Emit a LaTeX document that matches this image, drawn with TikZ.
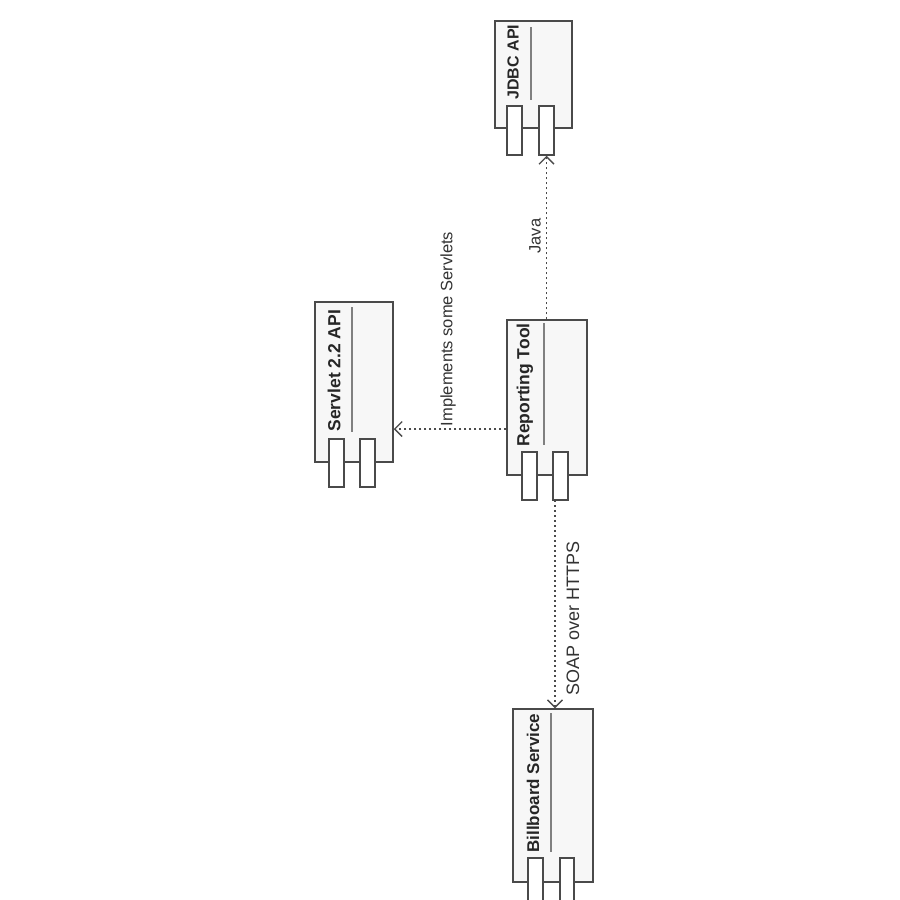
\documentclass[tikz,border=0pt]{standalone}
\usepackage{fontspec}
\setmainfont{Liberation Sans}
\usetikzlibrary{fit,arrows.meta}
\definecolor{edge}{HTML}{4A4A4A}
\definecolor{boxfill}{HTML}{F7F7F7}
\definecolor{sepline}{HTML}{808080}
\tikzset{
  compbox/.style={draw=edge, fill=boxfill, line width=0.6pt, inner sep=0pt, rectangle},
  comptab/.style={draw=edge, fill=white, line width=0.6pt, inner sep=0pt, rectangle},
  compname/.style={rotate=90, anchor=west, inner sep=0pt, font=\fontsize{7}{8}\selectfont\bfseries, text=black!85},
  sepstroke/.style={draw=sepline, line width=0.6pt},
  depline/.style={draw=edge, line width=0.75pt, dash pattern=on 0.9pt off 1.1pt, -{Straight Barb[length=3pt,width=6pt,line width=0.55pt]}},
  deplabel/.style={rotate=90, inner sep=0pt, font=\fontsize{7}{8}\selectfont, text=black!80}
}
\begin{document}
\begin{tikzpicture}[x=0.4pt,y=-0.4pt]
\useasboundingbox (0,0) rectangle (900,900);
\fill[white] (0,0) rectangle (900,900);
\clip (0,0) rectangle (900,900);

% JDBC API
\node[compbox, fit={(495,21) (572,128)}] (jdbc) {};
\node[comptab, fit={(507,106) (522,155)}] (jdbcA) {};
\node[comptab, fit={(539,106) (554,155)}] (jdbcB) {};
\node[compname, font=\fontsize{6.4}{8}\selectfont\bfseries] (jdbcN) at (513,100) {JDBC API};
\path[sepstroke] (531,27) -- (531,100);

% Servlet 2.2 API
\node[compbox, fit={(315,302) (393,462)}] (servlet) {};
\node[comptab, fit={(329,439) (344,487)}] (servletA) {};
\node[comptab, fit={(360,439) (375,487)}] (servletB) {};
\node[compname] (servletN) at (334,432) {Servlet 2.2 API};
\path[sepstroke] (352,307) -- (352,432);

% Reporting Tool
\node[compbox, fit={(507,320) (587,475)}] (rt) {};
\node[comptab, fit={(522,452) (537,500)}] (rtA) {};
\node[comptab, fit={(553,452) (568,500)}] (rtB) {};
\node[compname] (rtN) at (525,447) {Reporting Tool};
\path[sepstroke] (544,323) -- (544,445);

% Billboard Service
\node[compbox, fit={(513,709) (593,882)}] (bb) {};
\node[comptab, fit={(528,858) (543,910)}] (bbA) {};
\node[comptab, fit={(560,858) (574,910)}] (bbB) {};
\node[compname, font=\fontsize{6.8}{8}\selectfont\bfseries] (bbN) at (533,853) {Billboard Service};
\path[sepstroke] (551,713) -- (551,852);

% connectors
\coordinate (javaStart) at (rt.north -| jdbcB.south);
\path[depline] (javaStart) -- (jdbcB.south);
\node[deplabel, font=\fontsize{6.6}{8}\selectfont] (javaL) at (535,236) {Java};

\coordinate (implStart) at (rt.west |- 0,429);
\coordinate (implEnd) at (servlet.east |- 0,429);
\path[depline] (implStart) -- (implEnd);
\node[deplabel, font=\fontsize{6.6}{8}\selectfont] (implL) at (448,329) {Implements some Servlets};

\coordinate (soapStart) at (555,500);
\coordinate (soapEnd) at (bb.north -| soapStart);
\path[depline] (soapStart) -- (soapEnd);
\node[deplabel, font=\fontsize{7.2}{8}\selectfont] (soapL) at (573,618) {SOAP over HTTPS};
\end{tikzpicture}
\end{document}
